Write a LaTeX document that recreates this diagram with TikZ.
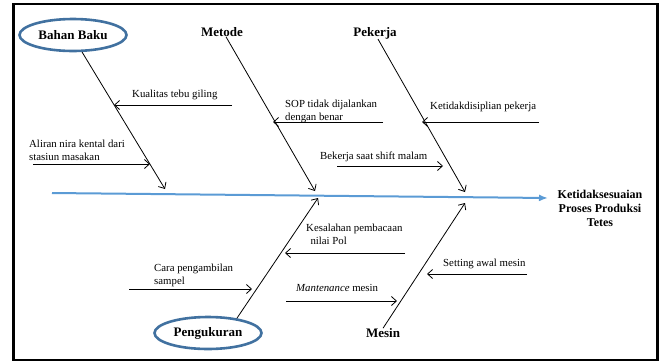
\documentclass[tikz,border=0pt]{standalone}
\usepackage{fontspec}
\setmainfont{Liberation Serif}
\usetikzlibrary{arrows.meta,shapes.geometric}
\definecolor{fishSpine}{RGB}{91,155,213}
\definecolor{fishRing}{RGB}{65,113,160}

\begin{document}
\begin{tikzpicture}[
  x=1pt,y=-1pt,
  causelabel/.style={
    inner sep=0pt,
    font=\fontsize{13}{15}\selectfont\bfseries
  },
  causering/.style={
    ellipse,
    draw=fishRing,
    line width=2.6pt,
    minimum width=107pt,
    minimum height=32pt,
    inner sep=0pt,
    font=\fontsize{13}{15}\selectfont\bfseries
  },
  subtext/.style={
    anchor=base west,
    align=left,
    inner sep=0pt,
    font=\fontsize{10.8}{13}\selectfont
  },
  bone/.style={-{Straight Barb[length=5pt,width=9pt]},line width=0.8pt},
  spine/.style={-{Latex[length=9pt,width=7pt]},line width=2pt,fishSpine}
]
  \useasboundingbox (0,0) rectangle (660,362);
  \draw[line width=2.8pt] (13.5,4) rectangle (657.5,360);

  \node[causering] (bahan) at (73,35) {Bahan Baku};
  \node[causelabel] (metode) at (222,32) {Metode};
  \node[causelabel] (pekerja) at (375,33) {Pekerja};
  \node[causering] (ukur) at (208,333) {Pengukuran};
  \node[causelabel] (mesin) at (383,333) {Mesin};
  \node[align=center,inner sep=0pt,font=\fontsize{12}{14}\selectfont\bfseries] (akibat) at (600,208)
    {Ketidaksesuaian\\Proses Produksi\\Tetes};

  \coordinate (spinestart) at (52,193);
  \coordinate (spineend) at (548,198);
  \draw[spine] (spinestart) -- (spineend);

  \coordinate (bahanhead) at (165,189);
  \coordinate (metodehead) at (315,191);
  \coordinate (pekerjahead) at (465,192);
  \coordinate (ukurhead) at (318,198);
  \coordinate (mesinhead) at (465,203);
  \draw[bone] (bahan.-62) -- (bahanhead);
  \draw[bone] (metode.south) ++(4,0) coordinate (metodetail) -- (metodehead);
  \draw[bone] (pekerja.south) ++(3,0) coordinate (pekerjatail) -- (pekerjahead);
  \draw[bone] (ukur.27) -- (ukurhead);
  \draw[bone] (mesin.north) -- (mesinhead);

  \node[subtext] (kualitas) at (132,97) {Kualitas tebu giling};
  \coordinate (kualitasA) at (232,105);
  \coordinate (kualitasB) at (114,105);
  \draw[bone] (kualitasA) -- (kualitasB);

  \node[subtext] (aliran) at (29,160) {Aliran nira kental dari\\stasiun masakan};
  \coordinate (aliranA) at (33,164);
  \coordinate (aliranB) at (150,164);
  \draw[bone] (aliranA) -- (aliranB);

  \node[subtext] (sop) at (285,120) {SOP tidak dijalankan\\dengan benar};
  \coordinate (sopA) at (383,122);
  \coordinate (sopB) at (273,122);
  \draw[bone] (sopA) -- (sopB);

  \node[subtext] (shift) at (320,159) {Bekerja saat shift malam};
  \coordinate (shiftA) at (337,166);
  \coordinate (shiftB) at (443,166);
  \draw[bone] (shiftA) -- (shiftB);

  \node[subtext] (disiplin) at (430,109) {Ketidakdisiplian pekerja};
  \coordinate (disiplinA) at (539,122);
  \coordinate (disiplinB) at (422,122);
  \draw[bone] (disiplinA) -- (disiplinB);

  \node[subtext] (baca) at (306,244) {Kesalahan pembacaan\\\hspace*{0.4em}nilai Pol};
  \coordinate (bacaA) at (405,253);
  \coordinate (bacaB) at (285,253);
  \draw[bone] (bacaA) -- (bacaB);

  \node[subtext] (sampel) at (154,284) {Cara pengambilan\\sampel};
  \coordinate (sampelA) at (129,289);
  \coordinate (sampelB) at (252,289);
  \draw[bone] (sampelA) -- (sampelB);

  \node[subtext] (rawat) at (296,291) {\textit{Mantenance} mesin};
  \coordinate (rawatA) at (286,301);
  \coordinate (rawatB) at (397,301);
  \draw[bone] (rawatA) -- (rawatB);

  \node[subtext] (setting) at (443,266) {Setting awal mesin};
  \coordinate (settingA) at (527,274);
  \coordinate (settingB) at (427,274);
  \draw[bone] (settingA) -- (settingB);
\end{tikzpicture}
\end{document}
